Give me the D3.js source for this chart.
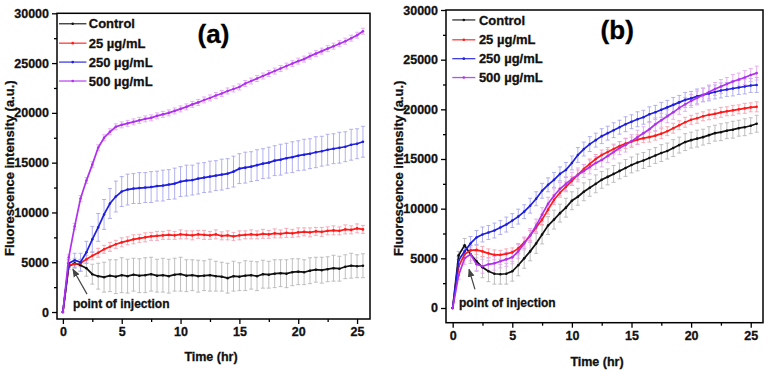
<!DOCTYPE html>
<html><head><meta charset="utf-8">
<script src="https://cdn.jsdelivr.net/npm/d3@7"></script>
<style>body{margin:0;background:#fff}svg{display:block}text{font-family:"Liberation Sans",Arial,sans-serif;font-weight:bold;stroke:#111;stroke-width:0.3px}</style>
</head><body><svg id="c" width="771" height="372"></svg>
<script>
// ---------- data ----------
const seriesNames = ["Control", "25 \u00b5g/mL", "250 \u00b5g/mL", "500 \u00b5g/mL"];
const lineColors = ["#111111", "#ff1a1a", "#1f1fe0", "#b030ee"];
const errColors = ["#b8b8b8", "#f5a0b0", "#a8a8ee", "#e2a8f0"];
const timeHr = [0,0.5,1,1.5,2,2.5,3,3.5,4,4.5,5,5.5,6,6.5,7,7.5,8,8.5,9,9.5,10,10.5,11,11.5,12,12.5,13,13.5,14,14.5,15,15.5,16,16.5,17,17.5,18,18.5,19,19.5,20,20.5,21,21.5,22,22.5,23,23.5,24,24.5,25,25.5];
const xTicks = [0,5,10,15,20,25];
const yTicks = [0,5000,10000,15000,20000,25000,30000];

// panel (a)
const controlA = [0,4600,4900,4700,4400,3800,3600,3500,3650,3550,3700,3600,3750,3650,3700,3800,3650,3700,3600,3750,3800,3650,3700,3600,3650,3700,3600,3550,3400,3600,3550,3650,3700,3600,3800,3750,3850,3900,3850,4000,4050,4000,4150,4250,4200,4300,4400,4350,4550,4650,4600,4650];
const ug25A = [0,4700,4800,4900,5300,5650,5950,6300,6550,6800,7000,7150,7300,7400,7500,7600,7650,7700,7750,7700,7800,7750,7700,7800,7750,7700,7800,7650,7700,7600,7700,7750,7800,7750,7850,7800,7900,7850,7950,7900,8000,8050,8000,8100,8050,8150,8200,8150,8300,8250,8400,8300];
const ug250A = [0,4900,5200,5000,6000,7300,8500,9800,10900,11600,12100,12300,12400,12450,12500,12550,12650,12700,12800,12900,13100,13200,13250,13400,13500,13600,13700,13800,13900,14100,14400,14500,14600,14750,14900,15000,15200,15300,15450,15550,15700,15800,15900,16050,16150,16300,16400,16500,16600,16800,16900,17100];
const ug500A = [0,5500,8600,11400,13200,14800,16500,17500,18100,18600,18800,18950,19100,19250,19400,19500,19700,19850,20000,20200,20400,20600,20850,21050,21300,21500,21750,21950,22200,22400,22600,22950,23200,23450,23700,23950,24200,24450,24700,24950,25200,25400,25700,25950,26200,26450,26700,26950,27200,27500,27800,28200];
const errControlA = [0,300,500,600,800,1000,1300,1500,1600,1700,1750,1700,1650,1700,1750,1700,1650,1700,1700,1650,1700,1600,1550,1600,1500,1600,1500,1450,1500,1500,1400,1500,1400,1450,1400,1350,1400,1350,1400,1350,1300,1250,1300,1250,1300,1250,1300,1250,1200,1250,1150,1200];
const err25A = [0,200,300,350,400,400,450,400,450,400,450,400,450,400,450,400,450,400,450,400,450,400,450,400,450,400,450,400,450,400,450,400,450,400,450,400,450,400,450,400,450,400,450,400,450,400,450,400,450,400,450,400];
const err250A = [0,400,700,900,1100,1300,1400,1500,1500,1550,1500,1550,1500,1550,1500,1550,1500,1550,1500,1550,1500,1550,1500,1550,1500,1550,1500,1550,1500,1550,1500,1550,1500,1550,1500,1550,1500,1550,1500,1550,1500,1550,1500,1550,1500,1550,1500,1550,1500,1550,1500,1550];
const err500A = [0,250,300,300,300,300,300,300,300,300,300,300,300,300,300,300,300,300,300,300,300,300,300,300,300,300,300,300,300,300,300,300,300,300,300,300,300,300,300,300,300,300,300,300,300,300,300,300,300,300,300,300];

// panel (b)
const controlB = [0,5300,6300,5400,4700,4100,3700,3450,3400,3450,3700,4300,5000,5700,6500,7400,8300,8900,9550,10100,10800,11200,11700,12100,12500,12900,13200,13500,13800,14100,14400,14650,14850,15100,15350,15600,15800,16100,16400,16700,16900,17050,17200,17400,17600,17700,17850,17950,18100,18200,18350,18550];
const ug25B = [0,4200,5400,5800,5850,5700,5500,5350,5350,5450,5600,6000,6600,7300,8100,8900,9900,10900,11600,12200,12800,13400,14000,14500,15000,15400,15700,16000,16300,16550,16750,16950,17100,17200,17350,17550,17800,18100,18400,18700,18950,19100,19300,19450,19550,19700,19800,19900,20000,20100,20200,20250];
const ug250B = [0,4800,5700,6500,7100,7400,7600,7800,8100,8400,8800,9200,9700,10300,11000,11800,12400,12900,13500,13900,14600,15400,16000,16500,16900,17300,17600,17900,18200,18500,18750,19000,19200,19500,19700,19950,20200,20450,20700,20950,21100,21300,21450,21600,21750,21900,22000,22100,22200,22300,22400,22450];
const ug500B = [0,3300,5000,5400,4400,4200,4400,4500,4700,4900,5100,5700,6500,7300,8300,9400,10500,11300,12000,12500,13000,13400,13800,14200,14600,14900,15300,15700,16100,16400,16800,17200,17600,18000,18500,18900,19300,19700,20150,20500,20850,21150,21450,21750,22050,22300,22550,22800,23000,23200,23450,23650];
const errControlB = [0,400,700,900,1000,1050,1050,1050,1000,1050,1000,1050,1000,950,1000,950,900,950,900,950,900,850,900,850,900,850,800,850,800,850,800,850,800,850,800,850,800,850,800,850,800,850,800,850,800,850,800,850,800,850,800,850];
const err25B = [0,300,400,450,450,500,450,500,450,500,450,500,450,500,450,500,450,500,450,500,450,500,450,500,450,500,450,500,450,500,450,500,450,500,450,500,450,500,450,500,450,500,450,500,450,500,450,500,450,500,450,500];
const err250B = [0,400,600,700,700,750,700,750,700,750,700,750,700,750,700,750,700,750,700,750,700,750,700,750,700,750,700,750,700,750,700,750,700,750,700,750,700,750,700,750,700,750,700,750,700,750,700,750,700,750,700,750];
const err500B = [0,400,600,650,650,700,650,700,650,700,650,700,650,700,650,700,650,700,650,700,650,700,650,700,650,700,650,700,650,700,650,700,650,700,650,700,650,700,650,700,650,700,650,700,650,700,650,700,650,700,650,700];

// ---------- panels ----------
const panels = [
  {label:"(a)", values:[controlA,ug25A,ug250A,ug500A], errs:[errControlA,err25A,err250A,err500A],
   xd:[-0.5,26.1], xr:[57,370], yd:[-700,30000], yr:[319,13.3],
   labelPos:[12.8,28000], legend:{t0:-0.5, t1:2.0, tt:2.2}, legendY:[28950,27000,25100,23200],
   arrow:{head:[0.85,4300], tail:[2.05,1800]}, inj:[0.85,800], titleX:[211,356], titleY:9},
  {label:"(b)", values:[controlB,ug25B,ug250B,ug500B], errs:[errControlB,err25B,err250B,err500B],
   xd:[-0.56,26.03], xr:[446,763], yd:[-1480,30000], yr:[322.7,10],
   labelPos:[13.8,28000], legend:{t0:-0.2, t1:1.9, tt:2.2}, legendY:[29000,27000,25100,23200],
   arrow:{head:[1.37,3900], tail:[1.87,1880]}, inj:[0.53,575], titleX:[597,361], titleY:398}
];

const svg = d3.select("#c");
const defs = svg.append("defs");
defs.append("marker").attr("id","ah").attr("viewBox","0 0 10 10").attr("refX",9).attr("refY",5)
  .attr("markerWidth",7).attr("markerHeight",7).attr("orient","auto")
  .append("path").attr("d","M0,1 L10,5 L0,9 Z").attr("fill","#444");

panels.forEach(p => {
  const x = d3.scaleLinear().domain(p.xd).range(p.xr);
  const y = d3.scaleLinear().domain(p.yd).range(p.yr);
  const g = svg.append("g");
  const [x0,x1] = p.xr, [yb,yt] = p.yr;

  // axes (outward ticks + minor)
  const xAxis = d3.axisBottom(x).tickValues(xTicks).tickSize(5).tickPadding(3).tickFormat(d3.format("d"));
  const xMinor = d3.axisBottom(x).tickValues(xTicks.map(v=>v+2.5).filter(v=>v<p.xd[1])).tickSize(3).tickFormat("");
  const yAxis = d3.axisLeft(y).tickValues(yTicks).tickSize(5).tickPadding(3).tickFormat(d3.format("d"));
  const yMinor = d3.axisLeft(y).tickValues(yTicks.map(v=>v+2500).filter(v=>v<p.yd[1])).tickSize(3).tickFormat("");
  [[xAxis,"b"],[xMinor,"b"],[yAxis,"l"],[yMinor,"l"]].forEach(([ax,s])=>{
    const a = g.append("g").attr("transform", s==="b" ? `translate(0,${yb})` : `translate(${x0},0)`).call(ax);
    a.select(".domain").remove();
    a.selectAll("line").attr("stroke","#000").attr("stroke-width",1.3);
    a.selectAll("text").attr("font-size",12.5).attr("font-weight","bold").attr("fill","#111")
      .style("font-family","'Liberation Sans',Arial,sans-serif");
  });

  // error bars
  const capW = 2;
  p.values.forEach((vals,si) => {
    const eg = g.append("g").attr("stroke", errColors[si]).attr("stroke-width",0.9).attr("fill","none");
    timeHr.forEach((t,i) => {
      const e = p.errs[si][i]; if (!e) return;
      const cx = x(t), ylo = y(vals[i]-e), yhi = y(vals[i]+e);
      eg.append("line").attr("x1",cx).attr("x2",cx).attr("y1",ylo).attr("y2",yhi);
      eg.append("line").attr("x1",cx-capW).attr("x2",cx+capW).attr("y1",ylo).attr("y2",ylo);
      eg.append("line").attr("x1",cx-capW).attr("x2",cx+capW).attr("y1",yhi).attr("y2",yhi);
    });
  });

  // lines
  const line = d3.line().x((d,i)=>x(timeHr[i])).y(d=>y(d));
  p.values.forEach((vals,si) => {
    g.append("path").datum(vals).attr("d",line).attr("fill","none")
      .attr("stroke",lineColors[si]).attr("stroke-width",1.7);
    g.selectAll(null).data(vals).enter().append("circle")
      .attr("cx",(d,i)=>x(timeHr[i])).attr("cy",d=>y(d)).attr("r",1.3).attr("fill",lineColors[si]);
  });

  // frame
  g.append("rect").attr("x",x0).attr("y",yt).attr("width",x1-x0).attr("height",yb-yt)
    .attr("fill","none").attr("stroke","#000").attr("stroke-width",1.5);

  // legend
  seriesNames.forEach((n,si) => {
    const ly = y(p.legendY[si]);
    g.append("line").attr("x1",x(p.legend.t0)+2).attr("x2",x(p.legend.t1)).attr("y1",ly).attr("y2",ly)
      .attr("stroke",lineColors[si]).attr("stroke-width",1.3).attr("opacity",0.85);
    g.append("circle").attr("cx",(x(p.legend.t0)+2+x(p.legend.t1))/2).attr("cy",ly).attr("r",1.3).attr("fill",lineColors[si]);
    g.append("text").attr("x",x(p.legend.tt)).attr("y",ly).attr("dy","0.36em").attr("font-size",13).attr("fill","#111").text(n);
  });

  // panel label
  g.append("text").attr("x",x(p.labelPos[0])).attr("y",y(p.labelPos[1])).attr("dy","0.36em")
    .attr("text-anchor","middle").attr("font-size",26).attr("fill","#000").style("stroke","#000").text(p.label);

  // annotation
  g.append("line").attr("x1",x(p.arrow.tail[0])).attr("y1",y(p.arrow.tail[1]))
    .attr("x2",x(p.arrow.head[0])).attr("y2",y(p.arrow.head[1]))
    .attr("stroke","#444").attr("stroke-width",1.2).attr("marker-end","url(#ah)");
  g.append("text").attr("x",x(p.inj[0])).attr("y",y(p.inj[1])).attr("dy","0.36em")
    .attr("font-size",12).attr("fill","#111").text("point of injection");

  // axis titles
  g.append("text").attr("x",p.titleX[0]).attr("y",p.titleX[1]).attr("dy","0.36em").attr("text-anchor","middle")
    .attr("font-size",12.5).attr("fill","#111").text("Time (hr)");
  g.append("text").attr("transform",`translate(${p.titleY},${(yb+yt)/2+2}) rotate(-90)`).attr("dy","0.36em")
    .attr("text-anchor","middle").attr("font-size",13).attr("fill","#111").text("Fluorescence intensity (a.u.)");
});
</script></body></html>
